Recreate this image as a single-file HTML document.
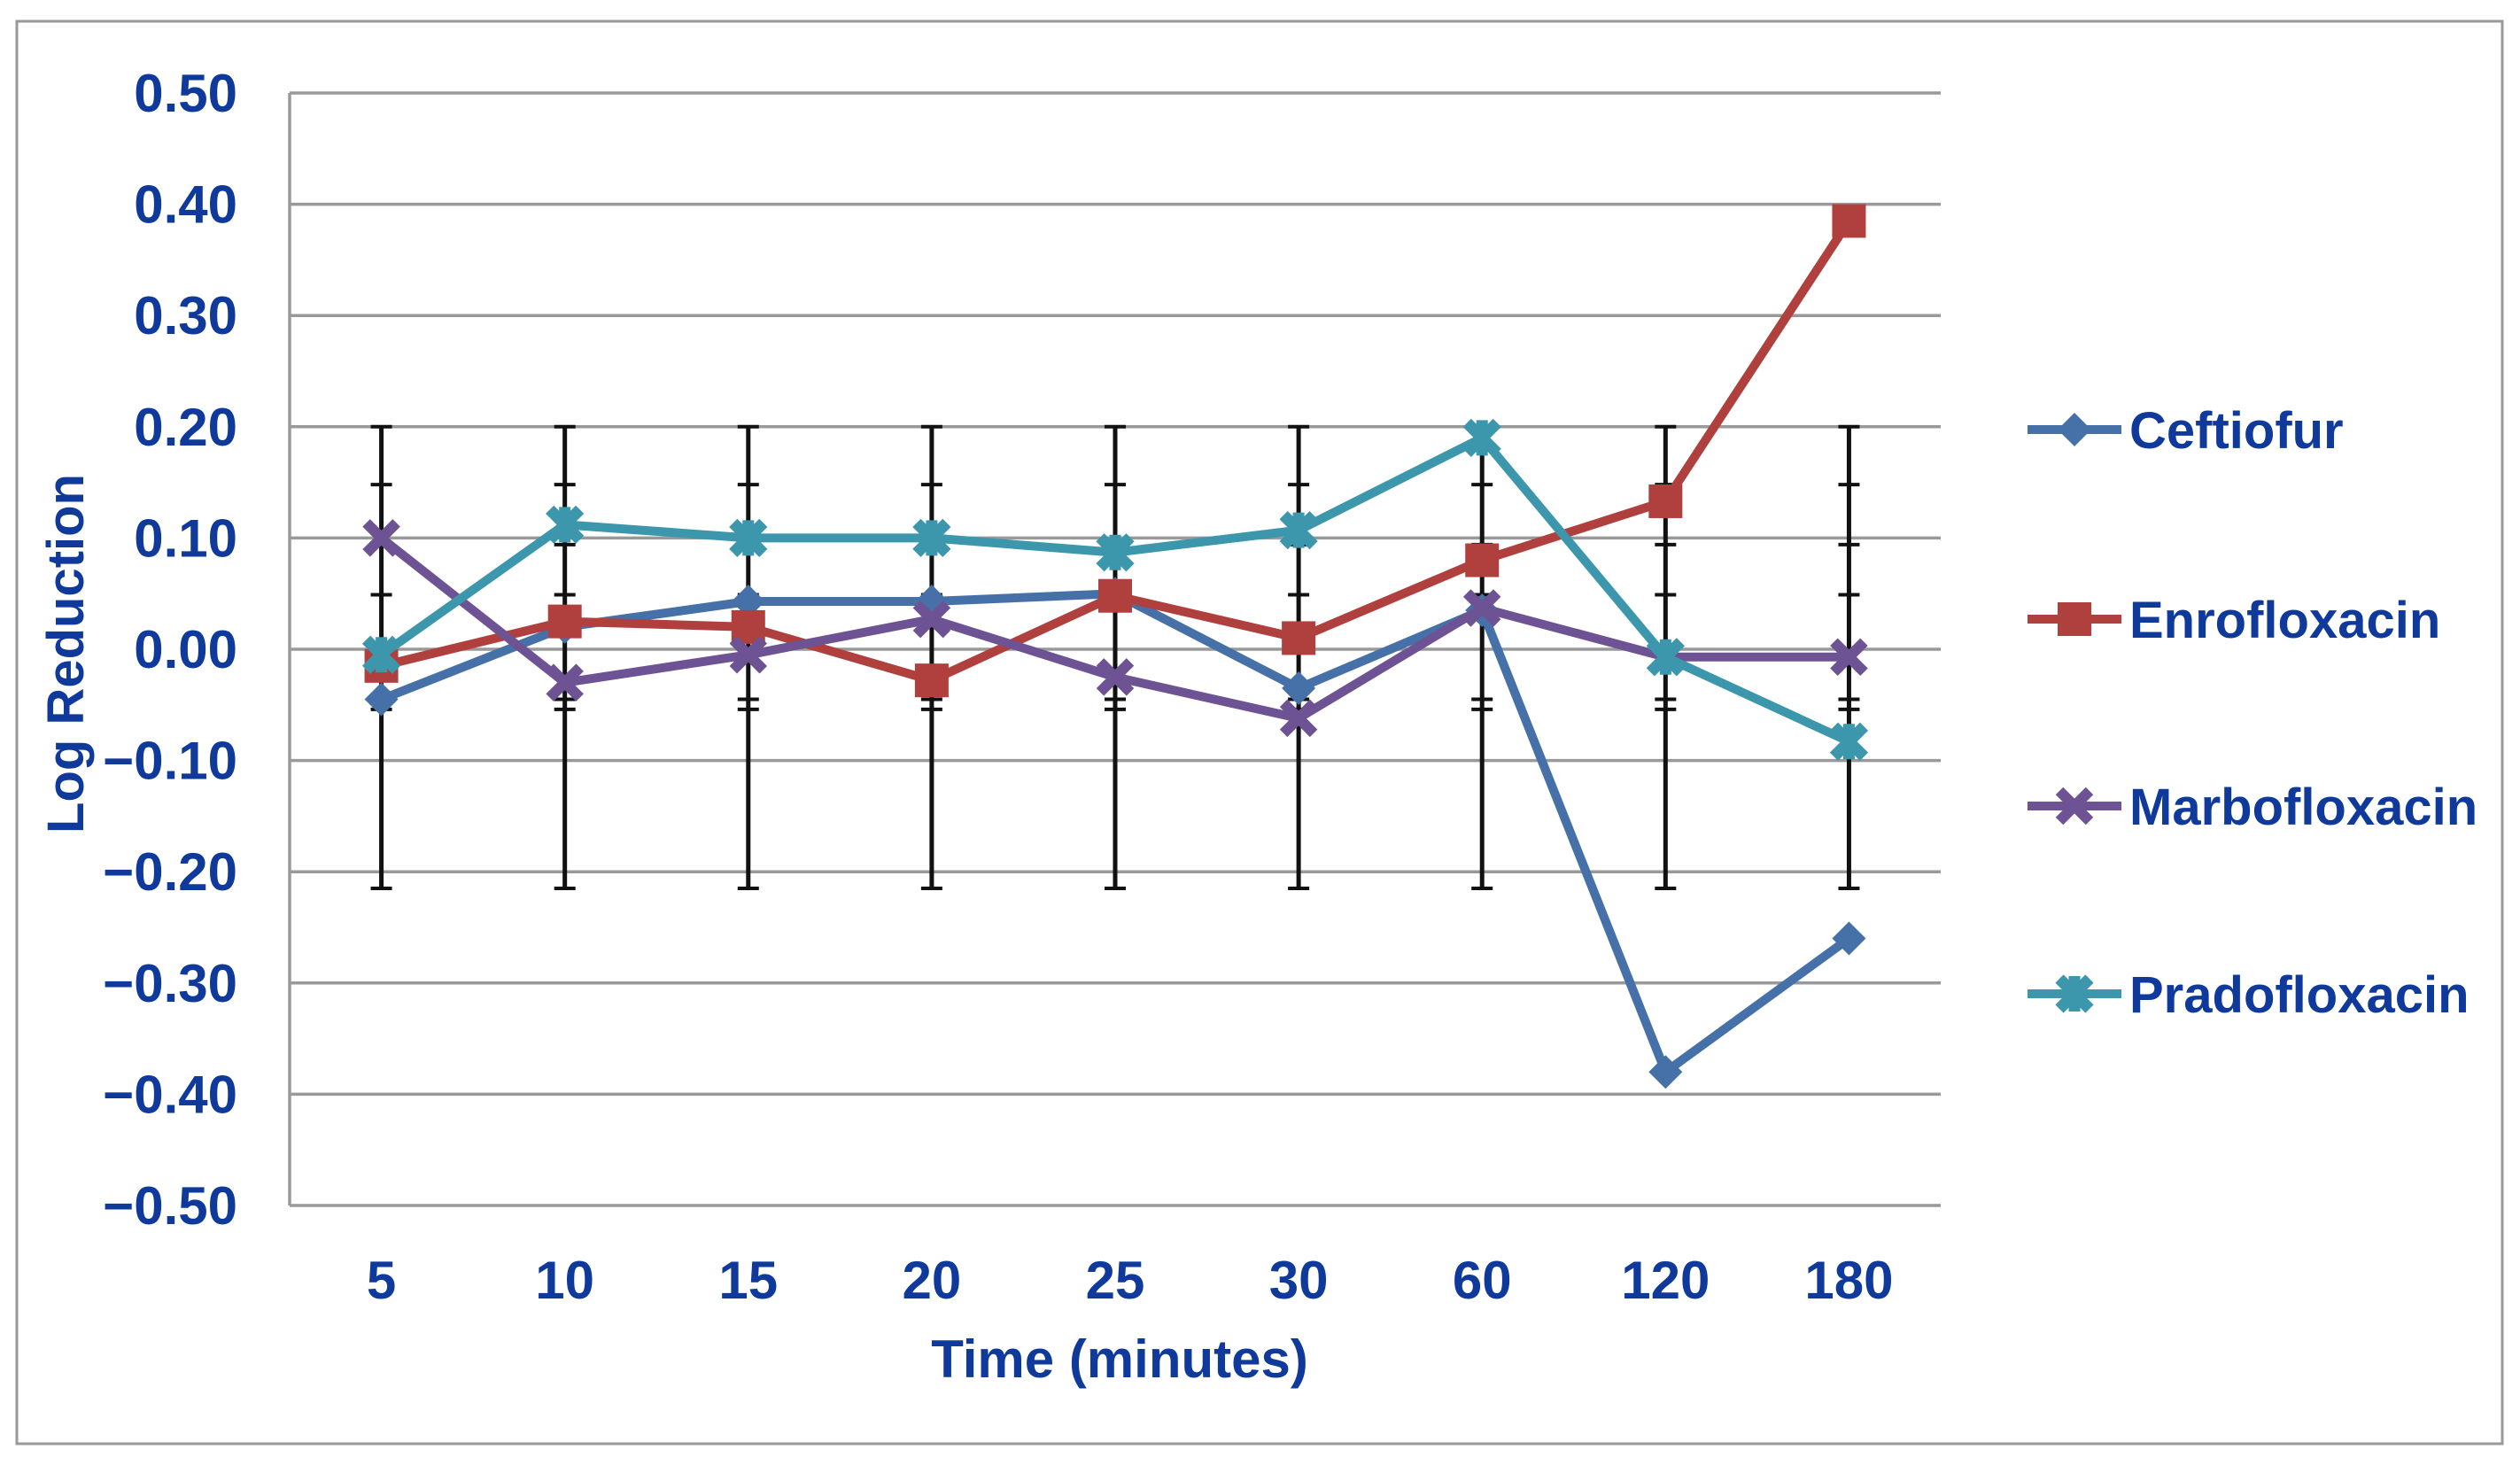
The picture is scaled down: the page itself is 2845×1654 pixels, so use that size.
<!DOCTYPE html>
<html><head><meta charset="utf-8"><style>
html,body{margin:0;padding:0;background:#fff;}
svg text{font-family:"Liberation Sans Narrow","Liberation Sans",sans-serif;font-weight:bold;fill:#0f3a9c;}
</style></head><body>
<svg id="chart" width="2845" height="1649" viewBox="0 0 2845 1649" xmlns="http://www.w3.org/2000/svg">
<rect x="19" y="24" width="2806" height="1606" fill="#fff" stroke="#999" stroke-width="3"/>
<g id="grid"></g><g id="errs"></g><g id="series"></g><g id="labels"></g><g id="legend"></g>
</svg>
<script>
const categories=["5","10","15","20","25","30","60","120","180"];
const yTicks=[0.5,0.4,0.3,0.2,0.1,0,-0.1,-0.2,-0.3,-0.4,-0.5];
const yTickLabels=["0.50","0.40","0.30","0.20","0.10","0.00","\u22120.10","\u22120.20","\u22120.30","\u22120.40","\u22120.50"];
const seriesNames=["Ceftiofur","Enrofloxacin","Marbofloxacin","Pradofloxacin"];
const ceftiofur=[-0.045,0.02,0.043,0.043,0.05,-0.035,0.035,-0.38,-0.26];
const enrofloxacin=[-0.015,0.025,0.02,-0.028,0.048,0.01,0.08,0.133,0.385];
const marbofloxacin=[0.1,-0.03,-0.005,0.027,-0.025,-0.062,0.037,-0.007,-0.007];
const pradofloxacin=[-0.005,0.112,0.1,0.1,0.087,0.107,0.19,-0.007,-0.083];
const errCaps=[0.2,0.148,0.094,0.049,-0.045,-0.054,-0.215];
const seriesValues=[ceftiofur,enrofloxacin,marbofloxacin,pradofloxacin];
const colors=["#4670a8","#b0403d","#6e5394","#3c97ac"];
const markers=["diamond","square","x","star"];
const NS="http://www.w3.org/2000/svg";
const L=327,R=2191,T=105,B=1361;
const bw=(R-L)/categories.length;
function xPos(i){return L+bw/2+bw*i;}
function yPos(v){return T+(0.5-v)/1.0*(B-T);}
function mk(tag,attrs,parent){const e=document.createElementNS(NS,tag);for(const k in attrs)e.setAttribute(k,attrs[k]);parent.appendChild(e);return e;}
const grid=document.getElementById('grid'),errs=document.getElementById('errs'),ser=document.getElementById('series'),lab=document.getElementById('labels'),leg=document.getElementById('legend');
yTicks.forEach((v,i)=>{
  const g=mk('line',{x1:L,x2:R,y1:yPos(v),y2:yPos(v),stroke:'#999','stroke-width':3.5},grid);
  
  
  const t=mk('text',{x:268,y:yPos(v)+21,'text-anchor':'end','font-size':60},lab);
  t.textContent=yTickLabels[i];
  
  
});
const ax=mk('line',{x1:L,x2:L,y1:T,y2:B,stroke:'#999','stroke-width':3.5},grid);


categories.forEach((c,i)=>{
  const x=xPos(i);
  const e=mk('line',{x1:x,x2:x,y1:yPos(errCaps[0]),y2:yPos(errCaps[errCaps.length-1]),stroke:'#111','stroke-width':5},errs);
  
  
  errCaps.forEach(v=>{
    const cp=mk('line',{x1:x-12,x2:x+12,y1:yPos(v),y2:yPos(v),stroke:'#111','stroke-width':4},errs);
    
    
  });
  const t=mk('text',{x:x,y:1466,'text-anchor':'middle','font-size':60},lab);
  t.textContent=c;
  
  
});
function marker(type,x,y,color,parent){
  let m;
  if(type==='diamond'){m=mk('polygon',{points:`${x},${y-19} ${x+19},${y} ${x},${y+19} ${x-19},${y}`,fill:color},parent);}
  else if(type==='square'){m=mk('rect',{x:x-19,y:y-19,width:38,height:38,fill:color},parent);}
  else if(type==='x'){m=mk('path',{d:`M${x-17},${y-17}L${x+17},${y+17}M${x-17},${y+17}L${x+17},${y-17}`,stroke:color,'stroke-width':12,fill:'none'},parent);}
  else {m=mk('path',{d:`M${x-17},${y-17}L${x+17},${y+17}M${x-17},${y+17}L${x+17},${y-17}M${x},${y-20}L${x},${y+20}`,stroke:color,'stroke-width':13,fill:'none'},parent);}
  return m;
}
seriesValues.forEach((vals,s)=>{
  const g=mk('g',{},ser);
  
  
  const pts=vals.map((v,i)=>xPos(i)+','+yPos(v)).join(' ');
  const pl=mk('polyline',{points:pts,fill:'none',stroke:colors[s],'stroke-width':10,'stroke-linejoin':'round'},g);
  
  
  vals.forEach((v,i)=>{
    const m=marker(markers[s],xPos(i),yPos(v),colors[s],g);
    
    
  });
  const ly=[485,699,910,1122][s];
  const lg=mk('g',{},leg);
  
  
  mk('line',{x1:2289,x2:2395,y1:ly,y2:ly,stroke:colors[s],'stroke-width':10},lg);
  marker(markers[s],2342,ly,colors[s],lg);
  const t=mk('text',{x:2404,y:ly+21,'font-size':58},lg);
  t.textContent=seriesNames[s];
});
const xt=mk('text',{x:1264,y:1555,'text-anchor':'middle','font-size':60},lab);
xt.textContent='Time (minutes)';


const yt=mk('text',{x:0,y:0,'text-anchor':'middle','font-size':58,transform:'translate(94,738) rotate(-90)'},lab);
yt.textContent='Log Reduction';


</script>
</body></html>
